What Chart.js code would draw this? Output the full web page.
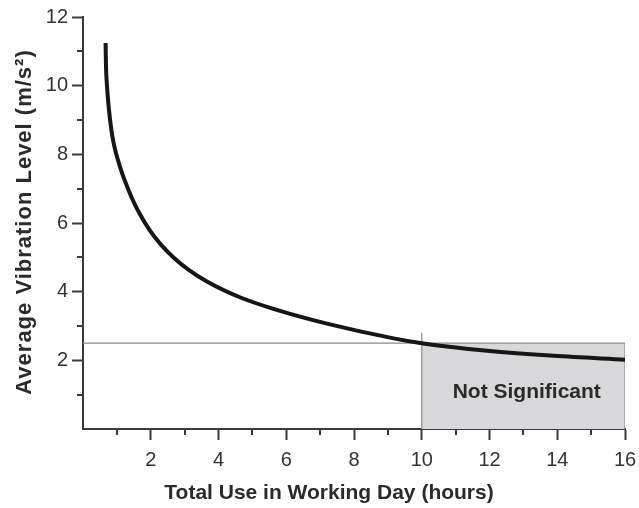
<!DOCTYPE html>
<html><head><meta charset="utf-8">
<script src="https://cdn.jsdelivr.net/npm/chart.js@4.4.1/dist/chart.umd.min.js"></script>
<style>html,body{margin:0;padding:0;background:#fff;overflow:hidden;}</style>
</head><body>
<canvas id="c" width="639" height="508"></canvas>
<script>
// Data
const curveHours  = [0.667, 0.678, 0.711, 0.761, 0.838, 0.917, 1.03, 1.171, 1.307, 1.469, 1.661, 1.962, 2.3, 2.68, 3.1, 3.67, 4.65, 5.62, 7.2, 9.17, 10, 11.93, 13.9, 16];
const curveLevels = [11.24, 10.6, 9.96, 9.35, 8.71, 8.27, 7.84, 7.4, 7.05, 6.67, 6.29, 5.8, 5.37, 4.99, 4.65, 4.29, 3.83, 3.5, 3.07, 2.64, 2.5, 2.28, 2.13, 2.02];
const limitLevel = 2.5;           // horizontal threshold line
const zoneStart = 10;             // start of "Not Significant" zone (hours)
const zoneEnd = 16;               // end of zone (hours)
const markerTop = 2.8;            // top of the vertical marker at 10 h
const xTicks = [0, 2, 4, 6, 8, 10, 12, 14, 16];
const yTicks = [0, 2, 4, 6, 8, 10, 12];
const xMinorTicks = [1, 3, 5, 7, 9, 11, 13, 15];
const yMinorTicks = [1, 3, 5, 7, 9, 11];
const zoneLabel = 'Not Significant';
const zoneLabelPos = {x: 13.1, y: 1.08};
const xTitle = 'Total Use in Working Day (hours)';
const yTitle = 'Average Vibration Level (m/s\u00B2)';

const curvePts = curveHours.map((h, i) => ({x: h, y: curveLevels[i]}));
const FONT = "'Liberation Sans', Arial, sans-serif";
const AXIS = '#3a3a3a';

const extras = {
  id: 'extras',
  afterDatasetsDraw(chart) {
    const ctx = chart.ctx, xs = chart.scales.x, ys = chart.scales.y;
    ctx.save();
    ctx.fillStyle = '#2a2a2a';
    ctx.font = 'bold 21px ' + FONT;
    ctx.textAlign = 'center';
    ctx.textBaseline = 'middle';
    ctx.fillText(zoneLabel, xs.getPixelForValue(zoneLabelPos.x), ys.getPixelForValue(zoneLabelPos.y));
    ctx.restore();
  },
  afterDraw(chart) {
    const ctx = chart.ctx, xs = chart.scales.x, ys = chart.scales.y;
    const a = chart.chartArea;
    ctx.save();
    ctx.strokeStyle = AXIS;
    ctx.lineWidth = 2;
    ctx.beginPath();
    xMinorTicks.forEach(v => {
      const px = Math.round(xs.getPixelForValue(v));
      ctx.moveTo(px, a.bottom); ctx.lineTo(px, a.bottom + 6);
    });
    yMinorTicks.forEach(v => {
      const py = Math.round(ys.getPixelForValue(v));
      ctx.moveTo(a.left, py); ctx.lineTo(a.left - 6, py);
    });
    ctx.stroke();
    ctx.fillStyle = '#2a2a2a';
    ctx.font = 'bold 21px ' + FONT;
    ctx.textAlign = 'center';
    ctx.textBaseline = 'middle';
    ctx.fillText(xTitle, 329, 493);
    ctx.translate(25, 222);
    ctx.rotate(-Math.PI / 2);
    ctx.font = 'bold 22px ' + FONT;
    try { ctx.letterSpacing = '1px'; } catch (e) {}
    ctx.fillText(yTitle, 0, 0);
    ctx.restore();
  }
};

new Chart(document.getElementById('c'), {
  type: 'line',
  data: {
    datasets: [
      {
        data: curvePts, borderColor: '#161616', borderWidth: 4,
        cubicInterpolationMode: 'monotone', pointRadius: 0, fill: false, order: 0
      },
      {
        data: [{x: 0, y: limitLevel}, {x: zoneEnd, y: limitLevel}],
        borderColor: '#8a8a8a', borderWidth: 1.2, pointRadius: 0, fill: false, order: 1
      },
      {
        data: [{x: zoneStart, y: 0}, {x: zoneStart, y: markerTop}],
        borderColor: '#8a8a8a', borderWidth: 1.2, pointRadius: 0, fill: false, order: 1
      },
      {
        data: [{x: zoneEnd, y: 0}, {x: zoneEnd, y: limitLevel}],
        borderColor: '#8a8a8a', borderWidth: 1.2, pointRadius: 0, fill: false, order: 1
      },
      {
        data: [{x: zoneStart, y: limitLevel}, {x: zoneEnd, y: limitLevel}],
        borderWidth: 0, borderColor: 'rgba(0,0,0,0)', backgroundColor: '#d8d8da',
        pointRadius: 0, fill: 'origin', order: 5
      }
    ]
  },
  options: {
    responsive: false,
    animation: false,
    events: [],
    layout: {padding: {top: 17, right: 14, left: 0, bottom: 0}},
    plugins: {legend: {display: false}, tooltip: {enabled: false}},
    scales: {
      x: {
        type: 'linear', min: 0, max: 16,
        afterFit(s) { s.height = 79; s.paddingRight = 0; },
        afterBuildTicks(s) { s.ticks = xTicks.map(v => ({value: v})); },
        grid: {
          drawOnChartArea: false, drawTicks: true, tickLength: 11, tickWidth: 2,
          tickColor: c => (c.tick && c.tick.value === 0) ? 'rgba(0,0,0,0)' : AXIS
        },
        border: {display: true, color: AXIS, width: 2},
        ticks: {
          padding: 8, color: '#333', font: {family: FONT, size: 20},
          maxRotation: 0, autoSkip: false,
          callback: v => v === 0 ? '' : String(v)
        }
      },
      y: {
        type: 'linear', min: 0, max: 12,
        afterFit(s) { s.width = 83; },
        afterBuildTicks(s) { s.ticks = yTicks.map(v => ({value: v})); },
        grid: {
          drawOnChartArea: false, drawTicks: true, tickLength: 11, tickWidth: 2,
          tickColor: c => (c.tick && c.tick.value === 0) ? 'rgba(0,0,0,0)' : AXIS
        },
        border: {display: true, color: AXIS, width: 2},
        ticks: {
          padding: 4, color: '#333', font: {family: FONT, size: 20},
          autoSkip: false,
          callback: v => v === 0 ? '' : String(v)
        }
      }
    }
  },
  plugins: [extras]
});
</script>
</body></html>
